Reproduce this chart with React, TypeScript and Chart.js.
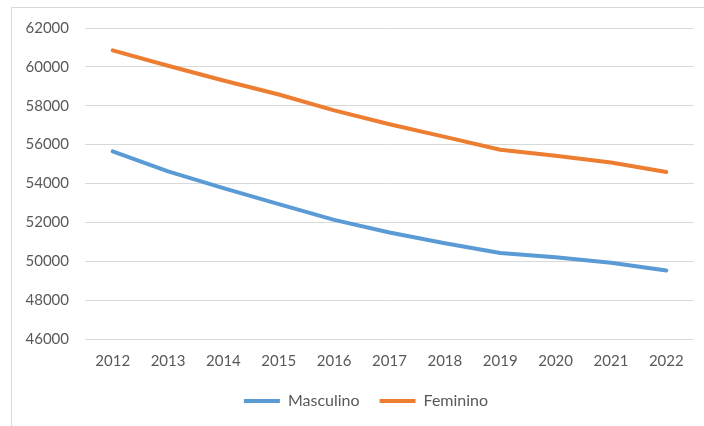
import React, { useEffect, useRef } from "react";
import { Chart, registerables } from "chart.js";

Chart.register(...registerables);

const years = ["2012", "2013", "2014", "2015", "2016", "2017", "2018", "2019", "2020", "2021", "2022"];
const masculino = [55650, 54620, 53760, 52940, 52130, 51480, 50930, 50420, 50200, 49920, 49520];
const feminino = [60850, 60060, 59300, 58580, 57760, 57050, 56400, 55740, 55430, 55080, 54590];
const yMin = 46000;
const yMax = 62000;
const yStep = 2000;

const FONT = "Lato, 'Open Sans', sans-serif";
const TEXT = "#595959";

const legendShift = {
  id: "legendShift",
  afterLayout(chart: any) {
    const l = chart.legend;
    if (l) {
      l.left += 19;
      l.right += 19;
    }
  },
};

export default function App() {
  const ref = useRef<HTMLCanvasElement | null>(null);
  useEffect(() => {
    if (!ref.current) return;
    const chart = new Chart(ref.current, {
      type: "line",
      data: {
        labels: years,
        datasets: [
          {
            label: "Masculino",
            data: masculino,
            borderColor: "#5B9BD5",
            backgroundColor: "#5B9BD5",
            borderWidth: 4,
            pointRadius: 0,
            pointHoverRadius: 0,
            tension: 0,
            borderCapStyle: "round",
            borderJoinStyle: "round",
            pointStyle: "line",
          },
          {
            label: "Feminino",
            data: feminino,
            borderColor: "#ED7D31",
            backgroundColor: "#ED7D31",
            borderWidth: 4,
            pointRadius: 0,
            pointHoverRadius: 0,
            tension: 0,
            borderCapStyle: "round",
            borderJoinStyle: "round",
            pointStyle: "line",
          },
        ],
      },
      plugins: [legendShift],
      options: {
        animation: false,
        responsive: false,
        maintainAspectRatio: false,
        layout: { padding: { top: 28, right: 10, bottom: 7, left: 0 } },
        plugins: {
          tooltip: { enabled: false },
          legend: {
            position: "bottom",
            labels: {
              usePointStyle: true,
              pointStyleWidth: 36,
              padding: 20,
              color: TEXT,
              font: { family: FONT, size: 16 },
            },
          },
        },
        scales: {
          x: {
            type: "category",
            offset: true,
            grid: { display: false, drawTicks: false },
            border: { display: false },
            ticks: { color: TEXT, font: { family: FONT, size: 15 }, padding: 13, maxRotation: 0, autoSkip: false },
            afterFit: (s: any) => {
              s.height = 34;
            },
          },
          y: {
            min: yMin,
            max: yMax,
            grid: { color: "#d9d9d9", lineWidth: 1, drawTicks: false },
            border: { display: false },
            ticks: {
              stepSize: yStep,
              color: TEXT,
              font: { family: FONT, size: 15 },
              padding: 16,
              callback: (v: any) => String(v),
            },
            afterFit: (s: any) => {
              s.width = 85;
            },
          },
        },
      },
    });
    return () => chart.destroy();
  }, []);

  return (
    <div style={{ position: "fixed", left: 0, top: 0, width: 704, height: 426, background: "#fff", overflow: "hidden" }}>
      <div
        style={{
          position: "absolute",
          left: 11,
          top: 7,
          width: 800,
          height: 600,
          border: "1px solid #d9d9d9",
          boxSizing: "border-box",
        }}
      />
      <canvas ref={ref} width={704} height={426} style={{ position: "absolute", left: 0, top: 0, width: 704, height: 426 }} />
    </div>
  );
}
